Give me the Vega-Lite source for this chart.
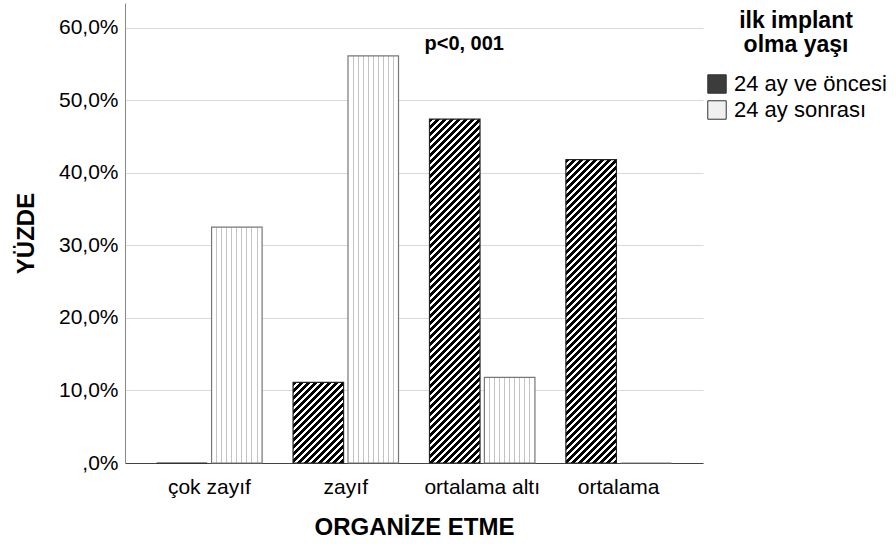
{
"$schema":"https://vega.github.io/schema/vega-lite/v6.json",
"width":578,"height":460,
"autosize":"none",
"padding":{"left":125,"top":3,"right":193,"bottom":81},
"config":{"font":"Liberation Sans","view":{"stroke":null}},
"datasets":{
"bars":[
{"cat":"çok zayıf","g":"24 ay ve öncesi","v":0},
{"cat":"çok zayıf","g":"24 ay sonrası","v":32.5},
{"cat":"zayıf","g":"24 ay ve öncesi","v":11.1},
{"cat":"zayıf","g":"24 ay sonrası","v":56.1},
{"cat":"ortalama altı","g":"24 ay ve öncesi","v":47.4},
{"cat":"ortalama altı","g":"24 ay sonrası","v":11.8},
{"cat":"ortalama","g":"24 ay ve öncesi","v":41.8},
{"cat":"ortalama","g":"24 ay sonrası","v":0}
],
"note":[{"t":"p<0, 001","cat":"ortalama altı","v":57.8}]
},
"layer":[
{"data":{"name":"bars"},
"mark":{"type":"bar"},
"encoding":{
"x":{"field":"cat","type":"nominal","scale":{"domain":["çok zayıf","zayıf","ortalama altı","ortalama"],"paddingInner":0.227,"paddingOuter":0.232},
"axis":{"title":"ORGANİZE ETME","labelAngle":0,"ticks":false,"grid":false,"domainColor":"#444","domainWidth":1.2,"labelFontSize":21,"labelColor":"#000","labelPadding":13,"titleFontSize":24,"titleFontWeight":"bold","titleColor":"#000","titlePadding":18}},
"xOffset":{"field":"g","type":"nominal","scale":{"domain":["24 ay ve öncesi","24 ay sonrası"],"paddingInner":0.08,"paddingOuter":0}},
"y":{"field":"v","type":"quantitative","scale":{"domain":[0,63.4],"nice":false},
"axis":{"title":"YÜZDE","values":[0,10,20,30,40,50,60],"ticks":false,"domainColor":"#888","gridColor":"#d9d9d9","labelFontSize":21,"labelColor":"#000","labelPadding":7,"labelExpr":"datum.value == 0 ? ',0%' : replace(format(datum.value, '.1f'), '.', ',') + '%'","titleFontSize":24,"titleFontWeight":"bold","titleColor":"#000","titlePadding":20}},
"fill":{"field":"g","type":"nominal","scale":{"domain":["24 ay ve öncesi","24 ay sonrası"],"range":["#3c3c3c","#f0f0f0"]},
"legend":{"title":["ilk implant","olma yaşı"],"orient":"none","legendX":581,"legendY":7,"titleFontSize":23,"titleFontWeight":"bold","titleColor":"#000","titleAnchor":"middle","titleAlign":"center","titleLineHeight":24,"titlePadding":16,"labelFontSize":22,"labelColor":"#000","labelOffset":6,"symbolType":"square","symbolSize":340,"symbolStrokeColor":"#333","symbolStrokeWidth":1,"symbolOpacity":1,"rowPadding":2}}
}},
{"data":{"name":"bars"},
"mark":{"type":"bar","strokeWidth":1.2},
"encoding":{
"x":{"field":"cat","type":"nominal","scale":{"domain":["çok zayıf","zayıf","ortalama altı","ortalama"],"paddingInner":0.227,"paddingOuter":0.232}},
"xOffset":{"field":"g","type":"nominal","scale":{"domain":["24 ay ve öncesi","24 ay sonrası"],"paddingInner":0.08,"paddingOuter":0}},
"y":{"field":"v","type":"quantitative","scale":{"domain":[0,63.4],"nice":false}},
"stroke":{"condition":{"test":"datum.g == '24 ay ve öncesi'","value":"#222"},"value":"#777"},
"fill":{"condition":[
{"test":"datum.g == '24 ay ve öncesi' && datum.cat == 'zayıf'","value":{"gradient":"linear","x1":0,"y1":0,"x2":3.9145,"y2":6.24,"stops":[
{"offset":0,"color":"#000"},{"offset":0.005,"color":"#000"},{"offset":0.005,"color":"#fff"},{"offset":0.01,"color":"#fff"},
{"offset":0.01,"color":"#000"},{"offset":0.015,"color":"#000"},{"offset":0.015,"color":"#fff"},{"offset":0.02,"color":"#fff"},
{"offset":0.02,"color":"#000"},{"offset":0.025,"color":"#000"},{"offset":0.025,"color":"#fff"},{"offset":0.03,"color":"#fff"},
{"offset":0.03,"color":"#000"},{"offset":0.035,"color":"#000"},{"offset":0.035,"color":"#fff"},{"offset":0.04,"color":"#fff"},
{"offset":0.04,"color":"#000"},{"offset":0.045,"color":"#000"},{"offset":0.045,"color":"#fff"},{"offset":0.05,"color":"#fff"},
{"offset":0.05,"color":"#000"},{"offset":0.055,"color":"#000"},{"offset":0.055,"color":"#fff"},{"offset":0.06,"color":"#fff"},
{"offset":0.06,"color":"#000"},{"offset":0.065,"color":"#000"},{"offset":0.065,"color":"#fff"},{"offset":0.07,"color":"#fff"},
{"offset":0.07,"color":"#000"},{"offset":0.075,"color":"#000"},{"offset":0.075,"color":"#fff"},{"offset":0.08,"color":"#fff"},
{"offset":0.08,"color":"#000"},{"offset":0.085,"color":"#000"},{"offset":0.085,"color":"#fff"},{"offset":0.09,"color":"#fff"},
{"offset":0.09,"color":"#000"},{"offset":0.095,"color":"#000"},{"offset":0.095,"color":"#fff"},{"offset":0.1,"color":"#fff"},
{"offset":0.1,"color":"#000"},{"offset":0.105,"color":"#000"},{"offset":0.105,"color":"#fff"},{"offset":0.11,"color":"#fff"},
{"offset":0.11,"color":"#000"},{"offset":0.115,"color":"#000"},{"offset":0.115,"color":"#fff"},{"offset":0.12,"color":"#fff"},
{"offset":0.12,"color":"#000"},{"offset":0.125,"color":"#000"},{"offset":0.125,"color":"#fff"},{"offset":0.13,"color":"#fff"},
{"offset":0.13,"color":"#000"},{"offset":0.135,"color":"#000"},{"offset":0.135,"color":"#fff"},{"offset":0.14,"color":"#fff"},
{"offset":0.14,"color":"#000"},{"offset":0.145,"color":"#000"},{"offset":0.145,"color":"#fff"},{"offset":0.15,"color":"#fff"},
{"offset":0.15,"color":"#000"},{"offset":0.155,"color":"#000"},{"offset":0.155,"color":"#fff"},{"offset":0.16,"color":"#fff"},
{"offset":0.16,"color":"#000"},{"offset":0.165,"color":"#000"},{"offset":0.165,"color":"#fff"},{"offset":0.17,"color":"#fff"},
{"offset":0.17,"color":"#000"},{"offset":0.175,"color":"#000"},{"offset":0.175,"color":"#fff"},{"offset":0.18,"color":"#fff"},
{"offset":0.18,"color":"#000"},{"offset":0.185,"color":"#000"},{"offset":0.185,"color":"#fff"},{"offset":0.19,"color":"#fff"},
{"offset":0.19,"color":"#000"},{"offset":0.195,"color":"#000"},{"offset":0.195,"color":"#fff"},{"offset":0.2,"color":"#fff"}
]}},
{"test":"datum.g == '24 ay ve öncesi' && datum.cat == 'ortalama altı'","value":{"gradient":"linear","x1":0,"y1":0,"x2":0.29259,"y2":1.99251,"stops":[
{"offset":0,"color":"#000"},{"offset":0.005,"color":"#000"},{"offset":0.005,"color":"#fff"},{"offset":0.01,"color":"#fff"},
{"offset":0.01,"color":"#000"},{"offset":0.015,"color":"#000"},{"offset":0.015,"color":"#fff"},{"offset":0.02,"color":"#fff"},
{"offset":0.02,"color":"#000"},{"offset":0.025,"color":"#000"},{"offset":0.025,"color":"#fff"},{"offset":0.03,"color":"#fff"},
{"offset":0.03,"color":"#000"},{"offset":0.035,"color":"#000"},{"offset":0.035,"color":"#fff"},{"offset":0.04,"color":"#fff"},
{"offset":0.04,"color":"#000"},{"offset":0.045,"color":"#000"},{"offset":0.045,"color":"#fff"},{"offset":0.05,"color":"#fff"},
{"offset":0.05,"color":"#000"},{"offset":0.055,"color":"#000"},{"offset":0.055,"color":"#fff"},{"offset":0.06,"color":"#fff"},
{"offset":0.06,"color":"#000"},{"offset":0.065,"color":"#000"},{"offset":0.065,"color":"#fff"},{"offset":0.07,"color":"#fff"},
{"offset":0.07,"color":"#000"},{"offset":0.075,"color":"#000"},{"offset":0.075,"color":"#fff"},{"offset":0.08,"color":"#fff"},
{"offset":0.08,"color":"#000"},{"offset":0.085,"color":"#000"},{"offset":0.085,"color":"#fff"},{"offset":0.09,"color":"#fff"},
{"offset":0.09,"color":"#000"},{"offset":0.095,"color":"#000"},{"offset":0.095,"color":"#fff"},{"offset":0.1,"color":"#fff"},
{"offset":0.1,"color":"#000"},{"offset":0.105,"color":"#000"},{"offset":0.105,"color":"#fff"},{"offset":0.11,"color":"#fff"},
{"offset":0.11,"color":"#000"},{"offset":0.115,"color":"#000"},{"offset":0.115,"color":"#fff"},{"offset":0.12,"color":"#fff"},
{"offset":0.12,"color":"#000"},{"offset":0.125,"color":"#000"},{"offset":0.125,"color":"#fff"},{"offset":0.13,"color":"#fff"},
{"offset":0.13,"color":"#000"},{"offset":0.135,"color":"#000"},{"offset":0.135,"color":"#fff"},{"offset":0.14,"color":"#fff"},
{"offset":0.14,"color":"#000"},{"offset":0.145,"color":"#000"},{"offset":0.145,"color":"#fff"},{"offset":0.15,"color":"#fff"},
{"offset":0.15,"color":"#000"},{"offset":0.155,"color":"#000"},{"offset":0.155,"color":"#fff"},{"offset":0.16,"color":"#fff"},
{"offset":0.16,"color":"#000"},{"offset":0.165,"color":"#000"},{"offset":0.165,"color":"#fff"},{"offset":0.17,"color":"#fff"},
{"offset":0.17,"color":"#000"},{"offset":0.175,"color":"#000"},{"offset":0.175,"color":"#fff"},{"offset":0.18,"color":"#fff"},
{"offset":0.18,"color":"#000"},{"offset":0.185,"color":"#000"},{"offset":0.185,"color":"#fff"},{"offset":0.19,"color":"#fff"},
{"offset":0.19,"color":"#000"},{"offset":0.195,"color":"#000"},{"offset":0.195,"color":"#fff"},{"offset":0.2,"color":"#fff"},
{"offset":0.2,"color":"#000"},{"offset":0.205,"color":"#000"},{"offset":0.205,"color":"#fff"},{"offset":0.21,"color":"#fff"},
{"offset":0.21,"color":"#000"},{"offset":0.215,"color":"#000"},{"offset":0.215,"color":"#fff"},{"offset":0.22,"color":"#fff"},
{"offset":0.22,"color":"#000"},{"offset":0.225,"color":"#000"},{"offset":0.225,"color":"#fff"},{"offset":0.23,"color":"#fff"},
{"offset":0.23,"color":"#000"},{"offset":0.235,"color":"#000"},{"offset":0.235,"color":"#fff"},{"offset":0.24,"color":"#fff"},
{"offset":0.24,"color":"#000"},{"offset":0.245,"color":"#000"},{"offset":0.245,"color":"#fff"},{"offset":0.25,"color":"#fff"},
{"offset":0.25,"color":"#000"},{"offset":0.255,"color":"#000"},{"offset":0.255,"color":"#fff"},{"offset":0.26,"color":"#fff"},
{"offset":0.26,"color":"#000"},{"offset":0.265,"color":"#000"},{"offset":0.265,"color":"#fff"},{"offset":0.27,"color":"#fff"},
{"offset":0.27,"color":"#000"},{"offset":0.275,"color":"#000"},{"offset":0.275,"color":"#fff"},{"offset":0.28,"color":"#fff"},
{"offset":0.28,"color":"#000"},{"offset":0.285,"color":"#000"},{"offset":0.285,"color":"#fff"},{"offset":0.29,"color":"#fff"},
{"offset":0.29,"color":"#000"},{"offset":0.295,"color":"#000"},{"offset":0.295,"color":"#fff"},{"offset":0.3,"color":"#fff"},
{"offset":0.3,"color":"#000"},{"offset":0.305,"color":"#000"},{"offset":0.305,"color":"#fff"},{"offset":0.31,"color":"#fff"},
{"offset":0.31,"color":"#000"},{"offset":0.315,"color":"#000"},{"offset":0.315,"color":"#fff"},{"offset":0.32,"color":"#fff"},
{"offset":0.32,"color":"#000"},{"offset":0.325,"color":"#000"},{"offset":0.325,"color":"#fff"},{"offset":0.33,"color":"#fff"},
{"offset":0.33,"color":"#000"},{"offset":0.335,"color":"#000"},{"offset":0.335,"color":"#fff"},{"offset":0.34,"color":"#fff"},
{"offset":0.34,"color":"#000"},{"offset":0.345,"color":"#000"},{"offset":0.345,"color":"#fff"},{"offset":0.35,"color":"#fff"},
{"offset":0.35,"color":"#000"},{"offset":0.355,"color":"#000"},{"offset":0.355,"color":"#fff"},{"offset":0.36,"color":"#fff"},
{"offset":0.36,"color":"#000"},{"offset":0.365,"color":"#000"},{"offset":0.365,"color":"#fff"},{"offset":0.37,"color":"#fff"},
{"offset":0.37,"color":"#000"},{"offset":0.375,"color":"#000"},{"offset":0.375,"color":"#fff"},{"offset":0.38,"color":"#fff"},
{"offset":0.38,"color":"#000"},{"offset":0.385,"color":"#000"},{"offset":0.385,"color":"#fff"},{"offset":0.39,"color":"#fff"},
{"offset":0.39,"color":"#000"},{"offset":0.395,"color":"#000"},{"offset":0.395,"color":"#fff"},{"offset":0.4,"color":"#fff"},
{"offset":0.4,"color":"#000"},{"offset":0.405,"color":"#000"},{"offset":0.405,"color":"#fff"},{"offset":0.41,"color":"#fff"},
{"offset":0.41,"color":"#000"},{"offset":0.415,"color":"#000"},{"offset":0.415,"color":"#fff"},{"offset":0.42,"color":"#fff"},
{"offset":0.42,"color":"#000"},{"offset":0.425,"color":"#000"},{"offset":0.425,"color":"#fff"},{"offset":0.43,"color":"#fff"},
{"offset":0.43,"color":"#000"},{"offset":0.435,"color":"#000"},{"offset":0.435,"color":"#fff"},{"offset":0.44,"color":"#fff"},
{"offset":0.44,"color":"#000"},{"offset":0.445,"color":"#000"},{"offset":0.445,"color":"#fff"},{"offset":0.45,"color":"#fff"},
{"offset":0.45,"color":"#000"},{"offset":0.455,"color":"#000"},{"offset":0.455,"color":"#fff"},{"offset":0.46,"color":"#fff"},
{"offset":0.46,"color":"#000"},{"offset":0.465,"color":"#000"},{"offset":0.465,"color":"#fff"},{"offset":0.47,"color":"#fff"},
{"offset":0.47,"color":"#000"},{"offset":0.475,"color":"#000"},{"offset":0.475,"color":"#fff"},{"offset":0.48,"color":"#fff"},
{"offset":0.48,"color":"#000"},{"offset":0.485,"color":"#000"},{"offset":0.485,"color":"#fff"},{"offset":0.49,"color":"#fff"},
{"offset":0.49,"color":"#000"},{"offset":0.495,"color":"#000"},{"offset":0.495,"color":"#fff"},{"offset":0.5,"color":"#fff"},
{"offset":0.5,"color":"#000"},{"offset":0.505,"color":"#000"},{"offset":0.505,"color":"#fff"},{"offset":0.51,"color":"#fff"},
{"offset":0.51,"color":"#000"},{"offset":0.515,"color":"#000"},{"offset":0.515,"color":"#fff"},{"offset":0.52,"color":"#fff"},
{"offset":0.52,"color":"#000"},{"offset":0.525,"color":"#000"},{"offset":0.525,"color":"#fff"},{"offset":0.53,"color":"#fff"},
{"offset":0.53,"color":"#000"},{"offset":0.535,"color":"#000"},{"offset":0.535,"color":"#fff"},{"offset":0.54,"color":"#fff"},
{"offset":0.54,"color":"#000"},{"offset":0.545,"color":"#000"},{"offset":0.545,"color":"#fff"},{"offset":0.55,"color":"#fff"},
{"offset":0.55,"color":"#000"},{"offset":0.555,"color":"#000"},{"offset":0.555,"color":"#fff"},{"offset":0.56,"color":"#fff"},
{"offset":0.56,"color":"#000"},{"offset":0.565,"color":"#000"},{"offset":0.565,"color":"#fff"},{"offset":0.57,"color":"#fff"}
]}},
{"test":"datum.g == '24 ay ve öncesi' && datum.cat == 'ortalama'","value":{"gradient":"linear","x1":0,"y1":0,"x2":0.37391,"y2":2.24569,"stops":[
{"offset":0,"color":"#000"},{"offset":0.005,"color":"#000"},{"offset":0.005,"color":"#fff"},{"offset":0.01,"color":"#fff"},
{"offset":0.01,"color":"#000"},{"offset":0.015,"color":"#000"},{"offset":0.015,"color":"#fff"},{"offset":0.02,"color":"#fff"},
{"offset":0.02,"color":"#000"},{"offset":0.025,"color":"#000"},{"offset":0.025,"color":"#fff"},{"offset":0.03,"color":"#fff"},
{"offset":0.03,"color":"#000"},{"offset":0.035,"color":"#000"},{"offset":0.035,"color":"#fff"},{"offset":0.04,"color":"#fff"},
{"offset":0.04,"color":"#000"},{"offset":0.045,"color":"#000"},{"offset":0.045,"color":"#fff"},{"offset":0.05,"color":"#fff"},
{"offset":0.05,"color":"#000"},{"offset":0.055,"color":"#000"},{"offset":0.055,"color":"#fff"},{"offset":0.06,"color":"#fff"},
{"offset":0.06,"color":"#000"},{"offset":0.065,"color":"#000"},{"offset":0.065,"color":"#fff"},{"offset":0.07,"color":"#fff"},
{"offset":0.07,"color":"#000"},{"offset":0.075,"color":"#000"},{"offset":0.075,"color":"#fff"},{"offset":0.08,"color":"#fff"},
{"offset":0.08,"color":"#000"},{"offset":0.085,"color":"#000"},{"offset":0.085,"color":"#fff"},{"offset":0.09,"color":"#fff"},
{"offset":0.09,"color":"#000"},{"offset":0.095,"color":"#000"},{"offset":0.095,"color":"#fff"},{"offset":0.1,"color":"#fff"},
{"offset":0.1,"color":"#000"},{"offset":0.105,"color":"#000"},{"offset":0.105,"color":"#fff"},{"offset":0.11,"color":"#fff"},
{"offset":0.11,"color":"#000"},{"offset":0.115,"color":"#000"},{"offset":0.115,"color":"#fff"},{"offset":0.12,"color":"#fff"},
{"offset":0.12,"color":"#000"},{"offset":0.125,"color":"#000"},{"offset":0.125,"color":"#fff"},{"offset":0.13,"color":"#fff"},
{"offset":0.13,"color":"#000"},{"offset":0.135,"color":"#000"},{"offset":0.135,"color":"#fff"},{"offset":0.14,"color":"#fff"},
{"offset":0.14,"color":"#000"},{"offset":0.145,"color":"#000"},{"offset":0.145,"color":"#fff"},{"offset":0.15,"color":"#fff"},
{"offset":0.15,"color":"#000"},{"offset":0.155,"color":"#000"},{"offset":0.155,"color":"#fff"},{"offset":0.16,"color":"#fff"},
{"offset":0.16,"color":"#000"},{"offset":0.165,"color":"#000"},{"offset":0.165,"color":"#fff"},{"offset":0.17,"color":"#fff"},
{"offset":0.17,"color":"#000"},{"offset":0.175,"color":"#000"},{"offset":0.175,"color":"#fff"},{"offset":0.18,"color":"#fff"},
{"offset":0.18,"color":"#000"},{"offset":0.185,"color":"#000"},{"offset":0.185,"color":"#fff"},{"offset":0.19,"color":"#fff"},
{"offset":0.19,"color":"#000"},{"offset":0.195,"color":"#000"},{"offset":0.195,"color":"#fff"},{"offset":0.2,"color":"#fff"},
{"offset":0.2,"color":"#000"},{"offset":0.205,"color":"#000"},{"offset":0.205,"color":"#fff"},{"offset":0.21,"color":"#fff"},
{"offset":0.21,"color":"#000"},{"offset":0.215,"color":"#000"},{"offset":0.215,"color":"#fff"},{"offset":0.22,"color":"#fff"},
{"offset":0.22,"color":"#000"},{"offset":0.225,"color":"#000"},{"offset":0.225,"color":"#fff"},{"offset":0.23,"color":"#fff"},
{"offset":0.23,"color":"#000"},{"offset":0.235,"color":"#000"},{"offset":0.235,"color":"#fff"},{"offset":0.24,"color":"#fff"},
{"offset":0.24,"color":"#000"},{"offset":0.245,"color":"#000"},{"offset":0.245,"color":"#fff"},{"offset":0.25,"color":"#fff"},
{"offset":0.25,"color":"#000"},{"offset":0.255,"color":"#000"},{"offset":0.255,"color":"#fff"},{"offset":0.26,"color":"#fff"},
{"offset":0.26,"color":"#000"},{"offset":0.265,"color":"#000"},{"offset":0.265,"color":"#fff"},{"offset":0.27,"color":"#fff"},
{"offset":0.27,"color":"#000"},{"offset":0.275,"color":"#000"},{"offset":0.275,"color":"#fff"},{"offset":0.28,"color":"#fff"},
{"offset":0.28,"color":"#000"},{"offset":0.285,"color":"#000"},{"offset":0.285,"color":"#fff"},{"offset":0.29,"color":"#fff"},
{"offset":0.29,"color":"#000"},{"offset":0.295,"color":"#000"},{"offset":0.295,"color":"#fff"},{"offset":0.3,"color":"#fff"},
{"offset":0.3,"color":"#000"},{"offset":0.305,"color":"#000"},{"offset":0.305,"color":"#fff"},{"offset":0.31,"color":"#fff"},
{"offset":0.31,"color":"#000"},{"offset":0.315,"color":"#000"},{"offset":0.315,"color":"#fff"},{"offset":0.32,"color":"#fff"},
{"offset":0.32,"color":"#000"},{"offset":0.325,"color":"#000"},{"offset":0.325,"color":"#fff"},{"offset":0.33,"color":"#fff"},
{"offset":0.33,"color":"#000"},{"offset":0.335,"color":"#000"},{"offset":0.335,"color":"#fff"},{"offset":0.34,"color":"#fff"},
{"offset":0.34,"color":"#000"},{"offset":0.345,"color":"#000"},{"offset":0.345,"color":"#fff"},{"offset":0.35,"color":"#fff"},
{"offset":0.35,"color":"#000"},{"offset":0.355,"color":"#000"},{"offset":0.355,"color":"#fff"},{"offset":0.36,"color":"#fff"},
{"offset":0.36,"color":"#000"},{"offset":0.365,"color":"#000"},{"offset":0.365,"color":"#fff"},{"offset":0.37,"color":"#fff"},
{"offset":0.37,"color":"#000"},{"offset":0.375,"color":"#000"},{"offset":0.375,"color":"#fff"},{"offset":0.38,"color":"#fff"},
{"offset":0.38,"color":"#000"},{"offset":0.385,"color":"#000"},{"offset":0.385,"color":"#fff"},{"offset":0.39,"color":"#fff"},
{"offset":0.39,"color":"#000"},{"offset":0.395,"color":"#000"},{"offset":0.395,"color":"#fff"},{"offset":0.4,"color":"#fff"},
{"offset":0.4,"color":"#000"},{"offset":0.405,"color":"#000"},{"offset":0.405,"color":"#fff"},{"offset":0.41,"color":"#fff"},
{"offset":0.41,"color":"#000"},{"offset":0.415,"color":"#000"},{"offset":0.415,"color":"#fff"},{"offset":0.42,"color":"#fff"},
{"offset":0.42,"color":"#000"},{"offset":0.425,"color":"#000"},{"offset":0.425,"color":"#fff"},{"offset":0.43,"color":"#fff"},
{"offset":0.43,"color":"#000"},{"offset":0.435,"color":"#000"},{"offset":0.435,"color":"#fff"},{"offset":0.44,"color":"#fff"},
{"offset":0.44,"color":"#000"},{"offset":0.445,"color":"#000"},{"offset":0.445,"color":"#fff"},{"offset":0.45,"color":"#fff"},
{"offset":0.45,"color":"#000"},{"offset":0.455,"color":"#000"},{"offset":0.455,"color":"#fff"},{"offset":0.46,"color":"#fff"},
{"offset":0.46,"color":"#000"},{"offset":0.465,"color":"#000"},{"offset":0.465,"color":"#fff"},{"offset":0.47,"color":"#fff"},
{"offset":0.47,"color":"#000"},{"offset":0.475,"color":"#000"},{"offset":0.475,"color":"#fff"},{"offset":0.48,"color":"#fff"},
{"offset":0.48,"color":"#000"},{"offset":0.485,"color":"#000"},{"offset":0.485,"color":"#fff"},{"offset":0.49,"color":"#fff"},
{"offset":0.49,"color":"#000"},{"offset":0.495,"color":"#000"},{"offset":0.495,"color":"#fff"},{"offset":0.5,"color":"#fff"},
{"offset":0.5,"color":"#000"},{"offset":0.505,"color":"#000"},{"offset":0.505,"color":"#fff"},{"offset":0.51,"color":"#fff"}
]}},
{"test":"datum.g == '24 ay ve öncesi'","value":"#000"}
],
"value":{"gradient":"linear","x1":0,"y1":0,"x2":1,"y2":0,"stops":[
{"offset":0,"color":"#fff"},{"offset":0.09,"color":"#fff"},{"offset":0.09,"color":"#c4c4c4"},{"offset":0.11,"color":"#c4c4c4"},{"offset":0.11,"color":"#fff"},
{"offset":0.19,"color":"#fff"},{"offset":0.19,"color":"#c4c4c4"},{"offset":0.21,"color":"#c4c4c4"},{"offset":0.21,"color":"#fff"},
{"offset":0.29,"color":"#fff"},{"offset":0.29,"color":"#c4c4c4"},{"offset":0.31,"color":"#c4c4c4"},{"offset":0.31,"color":"#fff"},
{"offset":0.39,"color":"#fff"},{"offset":0.39,"color":"#c4c4c4"},{"offset":0.41,"color":"#c4c4c4"},{"offset":0.41,"color":"#fff"},
{"offset":0.49,"color":"#fff"},{"offset":0.49,"color":"#c4c4c4"},{"offset":0.51,"color":"#c4c4c4"},{"offset":0.51,"color":"#fff"},
{"offset":0.59,"color":"#fff"},{"offset":0.59,"color":"#c4c4c4"},{"offset":0.61,"color":"#c4c4c4"},{"offset":0.61,"color":"#fff"},
{"offset":0.69,"color":"#fff"},{"offset":0.69,"color":"#c4c4c4"},{"offset":0.71,"color":"#c4c4c4"},{"offset":0.71,"color":"#fff"},
{"offset":0.79,"color":"#fff"},{"offset":0.79,"color":"#c4c4c4"},{"offset":0.81,"color":"#c4c4c4"},{"offset":0.81,"color":"#fff"},
{"offset":0.89,"color":"#fff"},{"offset":0.89,"color":"#c4c4c4"},{"offset":0.91,"color":"#c4c4c4"},{"offset":0.91,"color":"#fff"},
{"offset":1,"color":"#fff"}
]}}
}},
{"data":{"name":"note"},
"mark":{"type":"text","align":"left","baseline":"middle","dx":-5,"fontWeight":"bold","fontSize":20,"color":"#000"},
"encoding":{
"x":{"field":"cat","type":"nominal","bandPosition":0,"scale":{"domain":["çok zayıf","zayıf","ortalama altı","ortalama"],"paddingInner":0.227,"paddingOuter":0.232}},
"y":{"field":"v","type":"quantitative","scale":{"domain":[0,63.4],"nice":false}},
"text":{"field":"t"}
}}
]
}
